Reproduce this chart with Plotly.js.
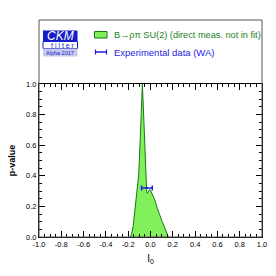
<!DOCTYPE html>
<html><head><meta charset="utf-8">
<script src="https://cdn.plot.ly/plotly-3.0.1.min.js"></script>
<style>html,body{margin:0;padding:0;background:#fff;}#c{width:276px;height:276px;}</style>
</head><body><div id="c"></div>
<script>
// B->rho pi SU(2) p-value profile for I_0
const curveX = [-0.18,-0.17,-0.156,-0.14,-0.12,-0.107,-0.100,-0.088,-0.080,-0.073,-0.067,-0.060,-0.050,-0.045,-0.040,-0.034,-0.028,-0.020,-0.008,0.000,0.010,0.020,0.040,0.060,0.085,0.105,0.124,0.145,0.160];
const curveP = [0.0,0.02,0.067,0.176,0.286,0.40,0.50,0.75,0.90,1.0,0.90,0.75,0.50,0.40,0.32,0.295,0.285,0.30,0.31,0.305,0.29,0.275,0.24,0.19,0.133,0.10,0.067,0.03,0.0];
// Experimental data (WA)
const expX = [-0.032];
const expErr = [0.048];
const expP = [0.32];
const xTicks = [-1.0,-0.8,-0.6,-0.4,-0.2,0.0,0.2,0.4,0.6,0.8,1.0];
const yTicks = [0.0,0.2,0.4,0.6,0.8,1.0];

const L=39, R=262, T=84, B=237;
const px = v => (v - L)/(R - L);
const py = v => (B - v)/(B - T);

const green = 'rgb(130,240,90)';
const dgreen = 'rgb(25,120,25)';
const blue = 'rgb(30,30,225)';

const traces = [
  {x: curveX, y: curveP, type:'scatter', mode:'lines', fill:'tozeroy',
   fillcolor: green, line:{color: dgreen, width:1}, hoverinfo:'skip'},
  {x: expX, y: expP, type:'scatter', mode:'markers',
   marker:{color: blue, size:2},
   error_x:{type:'data', array: expErr, visible:true, color: blue, thickness:1.5, width:2.5}}
];

const shapes = [
  {type:'rect', xref:'paper', yref:'paper', x0:0, x1:1, y0:0, y1:py(20), line:{color:'#555', width:1}, fillcolor:'rgba(0,0,0,0)'},
  // logo
  {type:'rect', xref:'paper', yref:'paper', x0:px(43), x1:px(77.5), y0:py(41.5), y1:py(30.5), line:{width:0}, fillcolor:'rgb(20,30,200)'},
  {type:'rect', xref:'paper', yref:'paper', x0:px(43), x1:px(77.5), y0:py(48.5), y1:py(41.5), line:{color:'rgb(20,30,200)', width:1}, fillcolor:'#fff'},
  {type:'rect', xref:'paper', yref:'paper', x0:px(43), x1:px(77.5), y0:py(56.5), y1:py(48.5), line:{width:0}, fillcolor:'rgb(200,200,238)'},
  // legend swatches
  {type:'rect', xref:'paper', yref:'paper', x0:px(94.5), x1:px(107), y0:py(38), y1:py(31.5), line:{color:dgreen, width:1}, fillcolor:green},
  {type:'line', xref:'paper', yref:'paper', x0:px(95), x1:px(107), y0:py(52), y1:py(52), line:{color:blue, width:1.5}},
  {type:'line', xref:'paper', yref:'paper', x0:px(95.5), x1:px(95.5), y0:py(49.5), y1:py(54.5), line:{color:blue, width:1.2}},
  {type:'line', xref:'paper', yref:'paper', x0:px(106.5), x1:px(106.5), y0:py(49.5), y1:py(54.5), line:{color:blue, width:1.2}}
];

const F = 'Liberation Sans, Arial, sans-serif';
const annotations = [
  {xref:'paper', yref:'paper', x:px(60), y:py(36), text:'<i>CKM</i>', showarrow:false, font:{family:F, size:12, color:'#fff'}, xanchor:'center', yanchor:'middle'},
  {xref:'paper', yref:'paper', x:px(63), y:py(45), text:'f i l t e r', showarrow:false, font:{family:F, size:7, color:'rgb(20,30,200)'}, xanchor:'center', yanchor:'middle'},
  {xref:'paper', yref:'paper', x:px(60), y:py(52.5), text:'Alpha 2017', showarrow:false, font:{family:F, size:5.5, color:'rgb(20,30,200)'}, xanchor:'center', yanchor:'middle'},
  {xref:'paper', yref:'paper', x:px(112), y:py(34.5), text:'B→ρπ SU(2) (direct meas. not in fit)', showarrow:false, font:{family:F, size:9.2, color:'rgb(30,130,30)'}, xanchor:'left', yanchor:'middle'},
  {xref:'paper', yref:'paper', x:px(112), y:py(52.5), text:'Experimental data (WA)', showarrow:false, font:{family:F, size:9.5, color:blue}, xanchor:'left', yanchor:'middle'}
];

const layout = {
  width:276, height:276,
  margin:{l:L, r:276-R, t:T, b:276-B, pad:0},
  paper_bgcolor:'#fff', plot_bgcolor:'#fff',
  showlegend:false,
  xaxis:{range:[-1,1], tickvals:xTicks, ticktext:xTicks.map(v=>v.toFixed(1)), ticks:'inside', ticklen:6, tickwidth:1, tickcolor:'#000',
    minor:{dtick:0.05, ticks:'inside', ticklen:3, tickcolor:'#000', showgrid:false},
    showline:true, linecolor:'#000', linewidth:1, mirror:'ticks', showgrid:false, zeroline:false,
    tickfont:{family:F, size:7.5, color:'#000'},
    title:{text:'I<sub>0</sub>', font:{family:F, size:10, color:'#000'}, standoff:6}},
  yaxis:{range:[0,1], tickvals:yTicks, ticktext:yTicks.map(v=>v.toFixed(1)), ticks:'inside', ticklen:6, tickwidth:1, tickcolor:'#000',
    minor:{dtick:0.05, ticks:'inside', ticklen:3, tickcolor:'#000', showgrid:false},
    showline:true, linecolor:'#000', linewidth:1, mirror:'ticks', showgrid:false, zeroline:false,
    tickfont:{family:F, size:7.5, color:'#000'},
    title:{text:'<b>p-value</b>', font:{family:F, size:9, color:'#000'}, standoff:8}},
  shapes: shapes,
  annotations: annotations
};

Plotly.newPlot('c', traces, layout, {staticPlot:true, displayModeBar:false});
</script></body></html>
